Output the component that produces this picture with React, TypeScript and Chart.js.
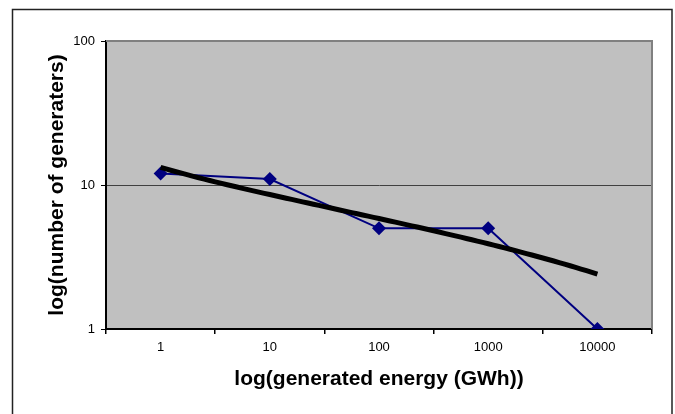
import React, { useEffect, useRef } from "react";
import { Chart, registerables } from "chart.js";

Chart.register(...registerables);

const categories = ["1", "10", "100", "1000", "10000"];
const generatorCounts = [12, 11, 5, 5, 1];
const yTickValues = [1, 10, 100];
const xTitle = "log(generated energy (GWh))";
const yTitle = "log(number of generaters)";

// Logarithmic trend line (y = a + b ln x), fitted to the series over category index 1..n
function logTrend(values: number[]) {
  const n = values.length;
  const lx = values.map((_, i) => Math.log(i + 1));
  const mx = lx.reduce((s, v) => s + v, 0) / n;
  const my = values.reduce((s, v) => s + v, 0) / n;
  let sxx = 0, sxy = 0;
  for (let i = 0; i < n; i++) {
    sxx += (lx[i] - mx) ** 2;
    sxy += (lx[i] - mx) * (values[i] - my);
  }
  const b = sxy / sxx;
  const a = my - b * mx;
  const pts: { x: number; y: number }[] = [];
  const steps = 80;
  for (let k = 0; k <= steps; k++) {
    const x = 1 + ((n - 1) * k) / steps;
    pts.push({ x, y: a + b * Math.log(x) });
  }
  return pts;
}

const FONT = "'Liberation Sans', Arial, sans-serif";

export default function App() {
  const ref = useRef<HTMLCanvasElement | null>(null);

  useEffect(() => {
    if (!ref.current) return;
    const decor = {
      id: "decor",
      beforeDraw(chart: any) {
        const { ctx, chartArea: a } = chart;
        ctx.save();
        ctx.fillStyle = "#ffffff";
        ctx.fillRect(0, 0, chart.width, chart.height);
        ctx.fillStyle = "#C0C0C0";
        ctx.fillRect(a.left, a.top, a.right - a.left, a.bottom - a.top);
        ctx.restore();
      },
      afterDraw(chart: any) {
        const { ctx, chartArea: a } = chart;
        ctx.save();
        // plot border top/right gray
        ctx.strokeStyle = "#808080";
        ctx.lineWidth = 2;
        ctx.beginPath();
        ctx.moveTo(a.left, a.top);
        ctx.lineTo(a.right, a.top);
        ctx.lineTo(a.right, a.bottom);
        ctx.stroke();
        // outer frame
        ctx.strokeStyle = "#222222";
        ctx.lineWidth = 1.5;
        ctx.strokeRect(12.5, 9.5, 659.5, 500);
        // titles
        ctx.fillStyle = "#000000";
        ctx.font = `bold 21px ${FONT}`;
        ctx.textAlign = "center";
        ctx.textBaseline = "middle";
        ctx.fillText(xTitle, (a.left + a.right) / 2, 379);
        ctx.translate(57, (a.top + a.bottom) / 2);
        ctx.rotate(-Math.PI / 2);
        ctx.fillText(yTitle, 0, 0);
        ctx.restore();
      },
    };

    const chart = new Chart(ref.current, {
      type: "scatter",
      data: {
        datasets: [
          {
            label: "generators",
            data: generatorCounts.map((v, i) => ({ x: i + 1, y: v })),
            showLine: true,
            borderColor: "#000080",
            backgroundColor: "#000080",
            borderWidth: 2,
            pointStyle: "rectRot",
            pointRadius: 7,
            pointBorderWidth: 0,
            order: 2,
          },
          {
            label: "trend",
            data: logTrend(generatorCounts),
            showLine: true,
            borderColor: "#000000",
            borderWidth: 5,
            pointRadius: 0,
            order: 1,
          },
        ],
      },
      options: {
        animation: false,
        responsive: false,
        layout: { padding: { top: 41, right: 23, left: 0, bottom: 0 } },
        plugins: { legend: { display: false }, tooltip: { enabled: false } },
        scales: {
          x: {
            type: "linear",
            min: 0.5,
            max: categories.length + 0.5,
            afterFit: (s: any) => { s.height = 85; },
            afterBuildTicks: (s: any) => {
              const t: any[] = [];
              for (let v = 0.5; v <= categories.length + 0.5; v += 0.5) t.push({ value: v });
              s.ticks = t;
            },
            ticks: {
              autoSkip: false,
              maxRotation: 0,
              padding: 6,
              color: "#000000",
              font: { family: FONT, size: 13 },
              callback: (v: any) => {
                const n = Number(v);
                return Number.isInteger(n) ? categories[n - 1] ?? "" : "";
              },
            },
            grid: {
              drawOnChartArea: false,
              tickLength: 5,
              lineWidth: 1.5,
              tickColor: (c: any) =>
                c.tick && Number.isInteger(c.tick.value) ? "rgba(0,0,0,0)" : "#000000",
            },
            border: { color: "#000000", width: 2 },
          },
          y: {
            type: "logarithmic",
            min: 1,
            max: 100,
            afterFit: (s: any) => { s.width = 106; },
            afterBuildTicks: (s: any) => {
              s.ticks = yTickValues.map((v) => ({ value: v }));
            },
            ticks: {
              padding: 6,
              color: "#000000",
              font: { family: FONT, size: 13 },
              callback: (v: any) => String(v),
            },
            grid: {
              tickLength: 5,
              lineWidth: 1,
              color: (c: any) => (c.tick && c.tick.value === 10 ? "#404040" : "rgba(0,0,0,0)"),
              tickColor: "#000000",
            },
            border: { color: "#000000", width: 2 },
          },
        },
      },
      plugins: [decor],
    });
    return () => chart.destroy();
  }, []);

  return (
    <div style={{ position: "fixed", left: 0, top: 0, width: 675, height: 414, background: "#fff" }}>
      <canvas ref={ref} width={675} height={414} style={{ display: "block" }} />
    </div>
  );
}
